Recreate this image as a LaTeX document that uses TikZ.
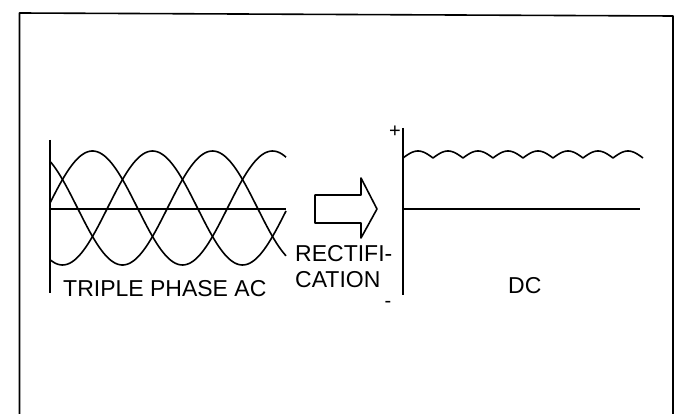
\documentclass[tikz,border=0pt]{standalone}
\usepackage{fontspec}
\setmainfont{Liberation Sans}
\begin{document}
\begin{tikzpicture}[x=1pt,y=-1pt,
  ln/.style={line width=1.6pt, line join=round},
  lbl/.style={font=\fontsize{23}{25}\selectfont, inner sep=0pt, anchor=base west},
  sgn/.style={font=\fontsize{20}{22}\selectfont, inner sep=0pt}]
\useasboundingbox (0,0) rectangle (678,414);
% frame
\draw[ln] (19.5,414) -- (19.5,13) -- (673,16) -- (673,414);
% AC plot
\draw[ln] (50,140) -- (50,293);
\draw[ln] (50,209) -- (286,209);
\foreach \c in {92.5,152.5,212.5}
  \draw[ln, domain=50:286, samples=120, smooth] plot (\x, {208 - 57*cos(2*(\x-\c))});
\node[lbl] (ac) at (63,297) {TRIPLE PHASE AC};
% arrow
\draw[ln] (315,195) -- (361,195) -- (361,178) -- (377,209) -- (361,238) -- (361,223) -- (315,223) -- cycle;
\node[lbl] (rect1) at (295,262) {RECTIFI-};
\node[lbl] (rect2) at (295,288) {CATION};
% DC plot
\draw[ln] (403,128) -- (403,295);
\draw[ln] (403,209) -- (640,209);
\draw[ln, domain=403:643, samples=241] plot (\x, {158 - 7*abs(sin(6*(\x-403)))});
\node[sgn] (plus) at (395,132) {+};
\node[sgn] (minus) at (388,304) {-};
\node[lbl] (dc) at (508,294) {DC};
\end{tikzpicture}
\end{document}
